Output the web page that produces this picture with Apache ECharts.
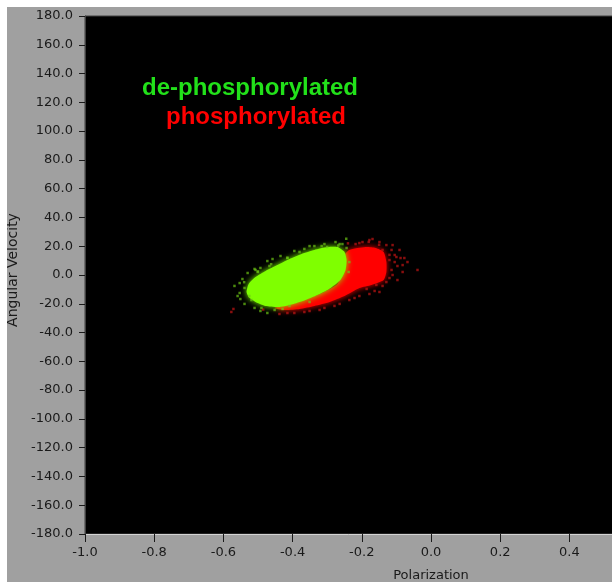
<!DOCTYPE html>
<html>
<head>
<meta charset="utf-8">
<script src="https://cdn.jsdelivr.net/npm/echarts@6/dist/echarts.min.js"></script>
<style>
  html, body { margin: 0; padding: 0; background: #ffffff; }
  #chart { width: 612px; height: 582px; }
</style>
</head>
<body>
<div id="chart"></div>
<script>
// Axis ranges (the original axis runs -1.0..1.0; the picture is cropped at the right)
const xRange = [-1.0, 1.0];
const xStep = 0.2;
const yRange = [-180, 180];
const yStep = 20;

const seriesNames = ['de-phosphorylated', 'phosphorylated'];

// Dense core outline of the de-phosphorylated (green) cloud
const greenCoreX = [-0.533, -0.527, -0.507, -0.478, -0.444, -0.409, -0.374, -0.337, -0.299, -0.270, -0.250,
                    -0.244, -0.247, -0.262, -0.290, -0.322, -0.363, -0.397, -0.438, -0.478, -0.507, -0.527];
const greenCoreY = [-11.8, -6.25, -1.4, 2.8, 6.9, 11.1, 14.6, 17.4, 19.4, 19.4, 16.0,
                    10.4, 3.5, -3.5, -9.0, -13.2, -17.4, -20.1, -22.2, -21.5, -18.75, -15.3];

// Dense core outline of the phosphorylated (red) cloud
const redCoreX = [-0.452, -0.395, -0.322, -0.270, -0.256, -0.250, -0.236, -0.189, -0.160, -0.137,
                  -0.129, -0.129, -0.137, -0.172, -0.207, -0.250, -0.293, -0.337, -0.380, -0.423];
const redCoreY = [-22.9, -19.4, -13.2, -6.25, 4.9, 13.9, 17.4, 19.4, 18.75, 16.0,
                  9.0, 2.1, -3.5, -6.9, -9.0, -14.6, -18.75, -21.5, -23.6, -24.3];

// Sparse points around the green cloud
const greenDotsX = [-0.568, -0.553, -0.551, -0.539, -0.510, -0.493, -0.473, -0.545, -0.530, -0.510,
                    -0.493, -0.473, -0.458, -0.435, -0.395, -0.366, -0.337, -0.308, -0.276, -0.256,
                    -0.244, -0.525, -0.559, -0.409, -0.429, -0.351, -0.245, -0.540, -0.500, -0.462,
                    -0.415, -0.300, -0.268, -0.501, -0.467, -0.415, -0.380, -0.316, -0.264, -0.236,
                    -0.238, -0.519, -0.490, -0.452, -0.539, -0.553, -0.507, -0.351];
const greenDotsY = [-7.6, -12.5, -16.7, -20.1, -22.9, -25.0, -26.4, -2.8, 1.4, 4.2,
                    4.9, 9.7, 11.1, 13.2, 16.7, 18.1, 20.1, 21.5, 22.9, 21.5,
                    18.75, -14.6, -14.6, -21.5, -23.6, -18.75, 25.2, -5.0, 2.5, 7.5,
                    12.0, 19.5, 20.5, 2.1, 6.25, 11.8, 16.0, 20.1, 21.5, 9.0,
                    2.1, -17.4, -22.9, -24.3, -9.0, -5.6, 3.5, 20.1];

// Sparse points around the red cloud
const redDotsX = [-0.111, -0.091, -0.100, -0.082, -0.039, -0.082, -0.111, -0.129, -0.158, -0.186,
                  -0.169, -0.198, -0.129, -0.114, -0.120, -0.105, -0.149, -0.178, -0.221, -0.264,
                  -0.308, -0.351, -0.395, -0.438, -0.577, -0.571, -0.218, -0.140, -0.077, -0.097,
                  -0.207, -0.180, -0.150, -0.120, -0.240, -0.485, -0.114, -0.097, -0.068, -0.120,
                  -0.140, -0.163, -0.236, -0.279, -0.322, -0.366, -0.415, -0.207, -0.178, -0.149,
                  -0.105, -0.088];
const redDotsY = [20.8, 17.4, 12.5, 6.9, 3.5, 2.1, 0.0, -4.9, -6.9, -9.7,
                  25.0, 22.9, 20.8, 3.5, 10.4, 9.0, -11.8, -13.2, -16.0, -20.1,
                  -22.9, -25.0, -26.4, -27.1, -25.7, -23.6, 21.5, 17.4, 11.8, -3.5,
                  -14.6, 23.0, 21.0, 14.0, 22.0, -24.0, 17.4, 6.25, 9.0, -2.1,
                  -7.6, -11.1, -17.4, -21.5, -24.3, -25.7, -26.4, 22.2, 24.3, 22.9,
                  13.9, 11.8];

const colGreen = '#7fff00';
const colRed = '#ff0000';

const chart = echarts.init(document.getElementById('chart'), null, { renderer: 'canvas' });

function polygonSeries(name, xs, ys, color, blur) {
  return {
    type: 'custom',
    name: name,
    coordinateSystem: 'cartesian2d',
    data: [[xs[0], ys[0]]],
    silent: true,
    renderItem: function (params, api) {
      const pts = xs.map(function (x, i) { return api.coord([x, ys[i]]); });
      return {
        type: 'polygon',
        shape: { points: pts, smooth: 0.2 },
        style: { fill: color, shadowBlur: blur, shadowColor: color }
      };
    }
  };
}

function dotsSeries(name, xs, ys, color) {
  return {
    type: 'scatter',
    name: name,
    symbol: 'rect',
    symbolSize: 2.5,
    silent: true,
    itemStyle: { color: color },
    data: xs.map(function (x, i) { return [x, ys[i]]; })
  };
}

const labelFont = 'DejaVu Sans';

chart.setOption({
  animation: false,
  backgroundColor: '#a0a0a0',
  grid: {
    left: 85, top: 16, width: 692, height: 518,
    outerBoundsMode: 'none',
    containLabel: false,
    show: true, backgroundColor: '#000000', borderColor: '#404040', borderWidth: 1
  },
  xAxis: {
    type: 'value',
    min: xRange[0], max: xRange[1], interval: xStep,
    name: 'Polarization',
    nameLocation: 'middle',
    nameGap: 35,
    nameTextStyle: { fontFamily: labelFont, fontSize: 13, color: '#1a1a1a' },
    axisLine: { show: true, onZero: false, lineStyle: { color: '#d4d4d4', width: 1 } },
    axisTick: { show: true, inside: false, length: 8, lineStyle: { color: '#1a1a1a' } },
    axisLabel: {
      fontFamily: labelFont, fontSize: 13, color: '#1a1a1a', margin: 12,
      formatter: function (v) { return v.toFixed(1); }
    },
    splitLine: { show: false }
  },
  yAxis: {
    type: 'value',
    min: yRange[0], max: yRange[1], interval: yStep,
    name: 'Angular Velocity',
    nameLocation: 'middle',
    nameGap: 60,
    nameTextStyle: { fontFamily: labelFont, fontSize: 14, color: '#1a1a1a', padding: [0, 0, 0, 10] },
    axisLine: { show: true, onZero: false, lineStyle: { color: '#404040', width: 1 } },
    axisTick: { show: true, inside: false, length: 6, lineStyle: { color: '#1a1a1a' } },
    axisLabel: {
      fontFamily: labelFont, fontSize: 13, color: '#1a1a1a', margin: 12,
      formatter: function (v) { return v.toFixed(1); }
    },
    splitLine: { show: false }
  },
  graphic: [
    { type: 'rect', left: 0, top: 0, shape: { width: 612, height: 7 }, style: { fill: '#ffffff' }, z: 100 },
    { type: 'rect', left: 0, top: 0, shape: { width: 7, height: 582 }, style: { fill: '#ffffff' }, z: 100 },
    {
      type: 'text', left: 142, top: 76, z: 100,
      style: { text: seriesNames[0], fill: '#22e11a', font: 'bold 24px "Liberation Sans", Arial, sans-serif' }
    },
    {
      type: 'text', left: 166, top: 105, z: 100,
      style: { text: seriesNames[1], fill: '#ff0000', font: 'bold 24px "Liberation Sans", Arial, sans-serif' }
    }
  ],
  series: [
    polygonSeries(seriesNames[1], redCoreX, redCoreY, colRed, 6),
    dotsSeries(seriesNames[1], redDotsX, redDotsY, 'rgba(200,20,20,0.85)'),
    polygonSeries(seriesNames[0], greenCoreX, greenCoreY, colGreen, 6),
    dotsSeries(seriesNames[0], greenDotsX, greenDotsY, 'rgba(110,200,20,0.85)')
  ]
});
</script>
</body>
</html>
